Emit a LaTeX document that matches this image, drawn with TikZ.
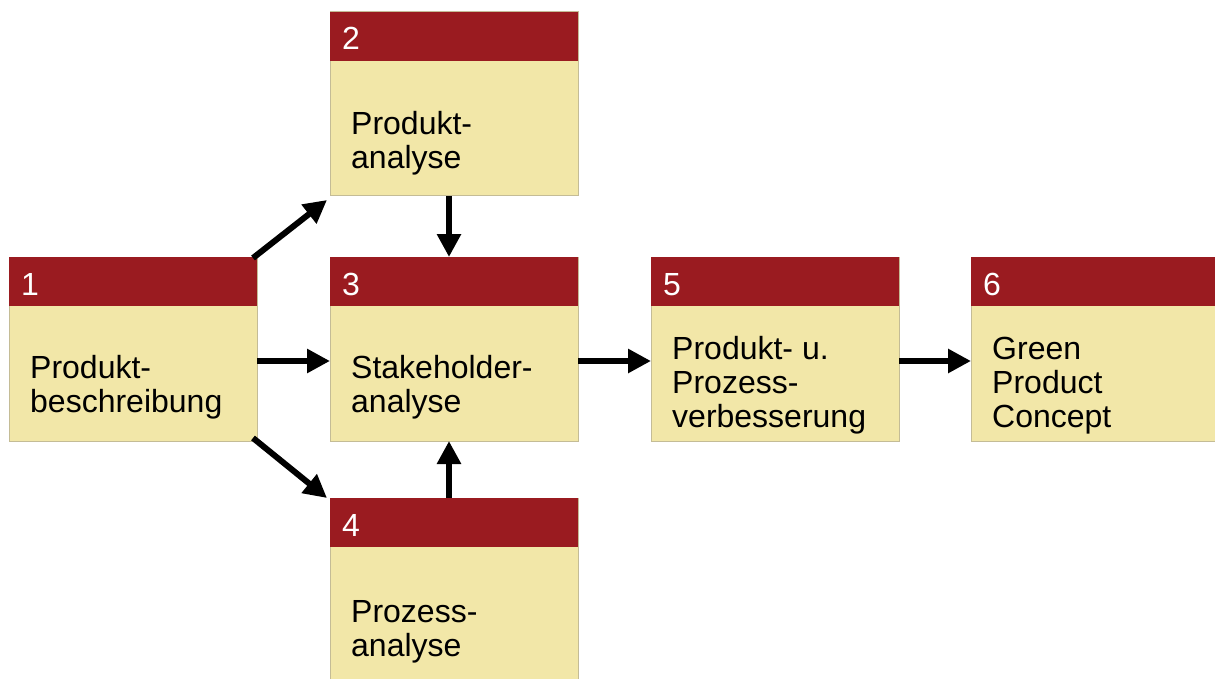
\documentclass[tikz,border=0pt]{standalone}
\usepackage{fontspec}
\setmainfont{Liberation Sans}
\usetikzlibrary{arrows.meta}
\definecolor{hdrred}{RGB}{154,27,32}
\definecolor{bodyyel}{RGB}{242,231,168}
\definecolor{bordgray}{RGB}{196,188,150}
\tikzset{
  box/.style={draw=bordgray, line width=1pt, fill=bodyyel, minimum width=248pt, minimum height=184pt, inner sep=0pt, outer sep=0pt},
  num/.style={anchor=base west, inner sep=0pt, text=white, font=\fontsize{32}{34}\selectfont},
  txt/.style={anchor=base west, inner sep=0pt, text=black, font=\fontsize{32}{34}\selectfont},
  arr/.style={line width=6pt, -{Triangle[length=23pt,width=23pt]}, black}
}
\newcommand{\boxhead}[1]{\fill[hdrred] (#1.north west) rectangle ([yshift=-49pt]#1.north east);}
\begin{document}
\begin{tikzpicture}[x=1pt,y=-1pt]
\useasboundingbox (0,0) rectangle (1215,679);
\clip (0,0) rectangle (1215,679);
% boxes
\node[box] (b1) at (133,349) {};
\node[box] (b2) at (454,104) {};
\node[box] (b3) at (454,349) {};
\node[box] (b4) at (454,590) {};
\node[box] (b5) at (775,349) {};
\node[box] (b6) at (1095,349) {};
\foreach \b in {b1,b2,b3,b4,b5,b6}{\boxhead{\b}}
% numbers
\node[num] (n1) at ([xshift=12pt,yshift=-38pt]b1.north west) {1};
\node[num] (n2) at ([xshift=12pt,yshift=-38pt]b2.north west) {2};
\node[num] (n3) at ([xshift=12pt,yshift=-38pt]b3.north west) {3};
\node[num] (n4) at ([xshift=12pt,yshift=-38pt]b4.north west) {4};
\node[num] (n5) at ([xshift=12pt,yshift=-38pt]b5.north west) {5};
\node[num] (n6) at ([xshift=12pt,yshift=-38pt]b6.north west) {6};
% texts
\node[txt] (t1a) at ([xshift=21pt,yshift=-121pt]b1.north west) {Produkt-};
\node[txt] (t1b) at ([xshift=21pt,yshift=-155pt]b1.north west) {beschreibung};
\node[txt] (t2a) at ([xshift=21pt,yshift=-123pt]b2.north west) {Produkt-};
\node[txt] (t2b) at ([xshift=21pt,yshift=-157pt]b2.north west) {analyse};
\node[txt] (t3a) at ([xshift=21pt,yshift=-121pt]b3.north west) {Stakeholder-};
\node[txt] (t3b) at ([xshift=21pt,yshift=-155pt]b3.north west) {analyse};
\node[txt] (t4a) at ([xshift=21pt,yshift=-124pt]b4.north west) {Prozess-};
\node[txt] (t4b) at ([xshift=21pt,yshift=-158pt]b4.north west) {analyse};
\node[txt] (t5a) at ([xshift=21pt,yshift=-102pt]b5.north west) {Produkt- u.};
\node[txt] (t5b) at ([xshift=21pt,yshift=-136pt]b5.north west) {Prozess-};
\node[txt] (t5c) at ([xshift=21pt,yshift=-170pt]b5.north west) {verbesserung};
\node[txt] (t6a) at ([xshift=21pt,yshift=-102pt]b6.north west) {Green};
\node[txt] (t6b) at ([xshift=21pt,yshift=-136pt]b6.north west) {Product};
\node[txt] (t6c) at ([xshift=21pt,yshift=-170pt]b6.north west) {Concept};
% arrows
\draw[arr] ([yshift=-12pt]b1.east) -- ([yshift=-12pt]b3.west);
\draw[arr] ([yshift=-12pt]b3.east) -- ([yshift=-12pt]b5.west);
\draw[arr] ([yshift=-12pt]b5.east) -- ([yshift=-12pt]b6.west);
\draw[arr] ([xshift=-5pt]b2.south) -- ([xshift=-5pt]b3.north);
\draw[arr] ([xshift=-5pt]b4.north) -- ([xshift=-5pt]b3.south);
\draw[arr] ([xshift=-4pt,yshift=-1pt]b1.north east) -- ([xshift=-3pt,yshift=-4pt]b2.south west);
\draw[arr] ([xshift=-4pt,yshift=3pt]b1.south east) -- ([xshift=-3pt]b4.north west);
\end{tikzpicture}
\end{document}
